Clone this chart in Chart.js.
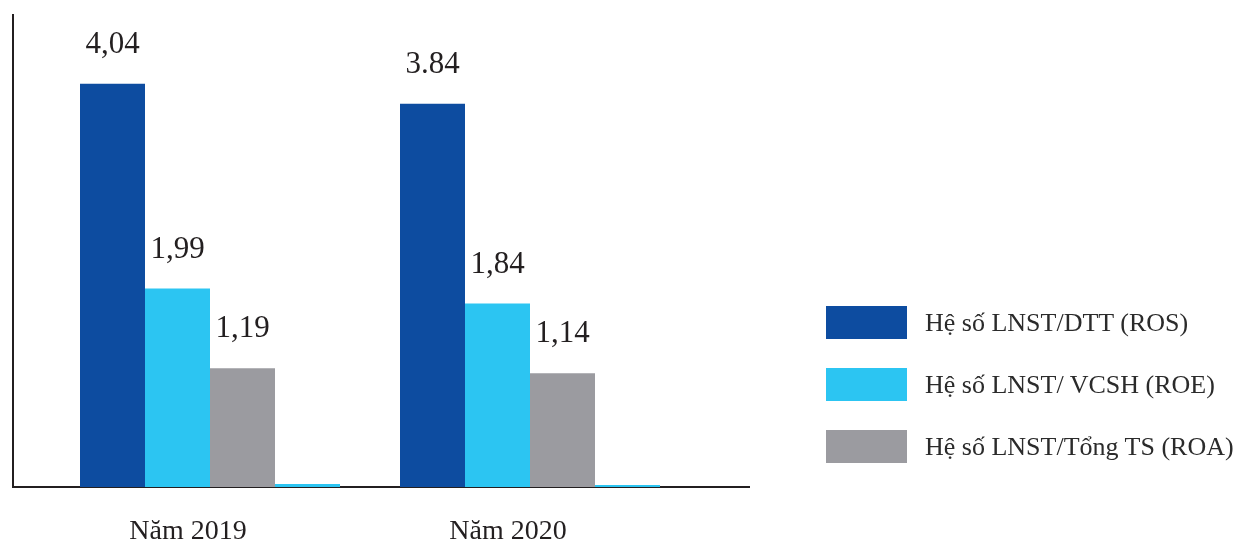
<!DOCTYPE html>
<html>
<head>
<meta charset="utf-8">
<script src="https://cdn.jsdelivr.net/npm/chart.js@4.4.1/dist/chart.umd.min.js"></script>
<style>
    html, body { margin: 0; padding: 0; background: #fff; }
    #wrap { position: relative; width: 1236px; height: 542px; }
    #legend {
        position: absolute; left: 826px; top: 306px;
        font-family: 'Liberation Serif', serif; font-size: 26px; color: #2b2b2b;
    }
    .item { display: flex; align-items: center; height: 33px; margin-bottom: 29px; }
    .box { width: 81px; height: 33px; margin-right: 18px; flex: none; }
</style>
</head>
<body>
<div id="wrap">
    <canvas id="ratios" width="1236" height="542"></canvas>
    <div id="legend"></div>
</div>
<script>
// Categories and series
const years = ['Năm 2019', 'Năm 2020'];
const rosValues = [4.04, 3.84];
const roeValues = [1.99, 1.84];
const roaValues = [1.19, 1.14];
const baseValues = [0.03, 0.02];

// Printed value labels (kept as they appear in the report)
const rosLabels = ['4,04', '3.84'];
const roeLabels = ['1,99', '1,84'];
const roaLabels = ['1,19', '1,14'];

const seriesNames = ['Hệ số LNST/DTT (ROS)', 'Hệ số LNST/ VCSH (ROE)', 'Hệ số LNST/Tổng TS (ROA)'];
const colors = ['#0d4ca0', '#2cc5f2', '#9b9ba0', '#2cc5f2'];
const textColor = '#231f20';
const fontFamily = "'Liberation Serif', serif";

// Axis lines drawn a little past the plotting area, under the bars
const axisLines = {
    id: 'axisLines',
    beforeDatasetsDraw(chart) {
        const { ctx, chartArea } = chart;
        ctx.save();
        ctx.strokeStyle = textColor;
        ctx.lineWidth = 2;
        ctx.beginPath();
        ctx.moveTo(chartArea.left - 37, 14);
        ctx.lineTo(chartArea.left - 37, chartArea.bottom + 1);
        ctx.moveTo(chartArea.left - 38, chartArea.bottom);
        ctx.lineTo(chartArea.right + 60, chartArea.bottom);
        ctx.stroke();
        ctx.restore();
    }
};

// Value text above each of the three main bars
const valueLabels = {
    id: 'valueLabels',
    afterDatasetsDraw(chart) {
        const { ctx } = chart;
        const texts = [rosLabels, roeLabels, roaLabels];
        ctx.save();
        ctx.fillStyle = textColor;
        ctx.font = '31px ' + fontFamily;
        ctx.textAlign = 'center';
        ctx.textBaseline = 'middle';
        texts.forEach((arr, di) => {
            chart.getDatasetMeta(di).data.forEach((bar, i) => {
                ctx.fillText(arr[i], bar.x, bar.y - 39);
            });
        });
        ctx.restore();
    }
};

const datasets = [rosValues, roeValues, roaValues, baseValues].map((vals, i) => ({
    label: seriesNames[i] || '',
    data: vals,
    backgroundColor: colors[i],
    borderWidth: 0,
    barPercentage: 1,
    categoryPercentage: 0.8125
}));

new Chart(document.getElementById('ratios'), {
    type: 'bar',
    data: { labels: years, datasets: datasets },
    options: {
        responsive: false,
        animation: false,
        layout: { padding: { left: 50, right: 546, top: 16, bottom: -27 } },
        plugins: {
            legend: { display: false },
            tooltip: { enabled: false }
        },
        scales: {
            y: { display: false, min: 0, max: 4.72 },
            x: {
                grid: { display: false },
                border: { display: false },
                ticks: {
                    color: textColor,
                    font: { family: fontFamily, size: 28, lineHeight: 1 },
                    padding: 23,
                    labelOffset: -22
                }
            }
        }
    },
    plugins: [axisLines, valueLabels]
});

// Legend for the three ratios
const legend = document.getElementById('legend');
seriesNames.forEach((name, i) => {
    const item = document.createElement('div');
    item.className = 'item';
    item.innerHTML = '<div class="box" style="background:' + colors[i] + '"></div><span>' + name + '</span>';
    legend.appendChild(item);
});
</script>
</body>
</html>
